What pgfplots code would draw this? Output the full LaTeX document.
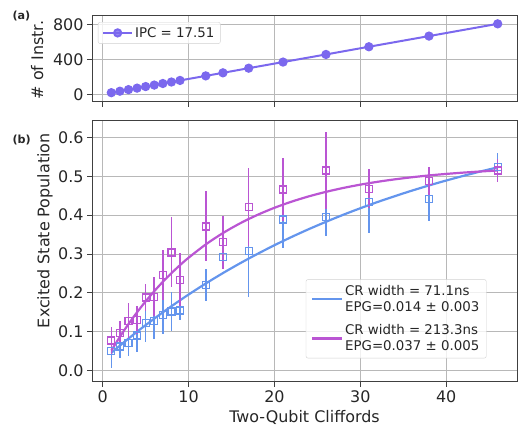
\documentclass[border=0pt]{standalone}
\usepackage{pgfplots}
\pgfplotsset{compat=1.18}
\usepackage{pgfplotstable}
\usepackage{fontspec}
\setmainfont{DejaVu Sans}
\definecolor{cblue}{RGB}{100,149,237}
\definecolor{cpurp}{RGB}{186,85,211}
\definecolor{ctop}{RGB}{123,104,238}

\pgfplotstableread{
x y
1 18
2 35
3 53
4 70
5 88
6 105
7 123
8 140
9 158
12 210
14 245
17 298
21 368
26 455
31 543
38 665
46 805
}\instr

\pgfplotstableread{
x y e
1 0.050 0.043
2 0.062 0.030
3 0.071 0.035
4 0.090 0.042
5 0.123 0.050
6 0.127 0.045
7 0.142 0.047
8 0.152 0.050
9 0.154 0.023
12 0.220 0.040
14 0.292 0.030
17 0.307 0.118
21 0.389 0.074
26 0.395 0.048
31 0.433 0.080
38 0.441 0.056
46 0.524 0.037
}\bluedata

\pgfplotstableread{
x y e
1 0.077 0.035
2 0.097 0.030
3 0.128 0.045
4 0.130 0.035
5 0.188 0.035
6 0.190 0.050
7 0.246 0.065
8 0.304 0.090
9 0.233 0.070
12 0.371 0.090
14 0.330 0.068
17 0.421 0.100
21 0.466 0.080
26 0.515 0.100
31 0.468 0.050
38 0.488 0.035
46 0.515 0.030
}\purpdata

\pgfplotstableread{
x y
1 0.0452
2 0.0639
3 0.0821
4 0.0997
5 0.1168
6 0.1334
7 0.1496
8 0.1653
9 0.1806
10 0.1955
12 0.2239
14 0.2507
16 0.2760
18 0.2999
20 0.3225
22 0.3438
24 0.3639
26 0.3828
28 0.4008
30 0.4177
32 0.4337
34 0.4487
36 0.4630
38 0.4764
40 0.4891
42 0.5011
44 0.5124
46 0.5230
}\bluefit

\pgfplotstableread{
x y
1 0.0513
2 0.0867
3 0.1195
4 0.1499
5 0.1780
6 0.2040
7 0.2282
8 0.2505
9 0.2712
10 0.2903
12 0.3245
14 0.3538
16 0.3789
18 0.4004
20 0.4189
22 0.4347
24 0.4483
26 0.4599
28 0.4699
30 0.4785
32 0.4858
34 0.4921
36 0.4975
38 0.5022
40 0.5061
42 0.5095
44 0.5124
46 0.5149
}\purpfit

\pgfplotsset{
  common/.style={
    scale only axis,
    width=425bp,
    xmin=-1.25, xmax=48.25,
    axis line style={black!75, line width=0.8bp},
    tick style={black!75, line width=0.8bp},
    tick align=outside,
    major tick length=5bp,
    xtick pos=left, ytick pos=left,
    grid=major,
    grid style={black!28, line width=0.8bp},
    tick label style={font=\fontsize{16}{19}\selectfont, text=black!85},
    /pgf/number format/assume math mode=true,
    label style={font=\fontsize{16}{19}\selectfont, text=black!85},
    xtick={0,10,20,30,40},
    legend style={font=\fontsize{13.4}{15.7}\selectfont, draw=black!18, rounded corners=2pt,
      fill=white, fill opacity=0.8, text opacity=1, text=black!85, inner xsep=4bp, inner ysep=3bp},
    legend cell align=left,
  }
}

\begin{document}
\begin{tikzpicture}
\useasboundingbox (0,0) rectangle (518bp,426bp);

\begin{axis}[common,
  at={(92bp,324.3bp)}, anchor=south west,
  height=86.7bp,
  ymin=-85, ymax=906,
  ytick={0,400,800},
  xticklabels={},
  ylabel={\# of Instr.},
  ylabel style={at={(axis description cs:-0.115,0.48)}, anchor=base},
  legend style={at={(axis description cs:0.014,0.919)}, anchor=north west},
  legend image code/.code={\draw[mark repeat=2,mark phase=2,#1] plot coordinates {(0bp,0bp) (14.5bp,0bp) (29bp,0bp)};},
]
\addplot[ctop, line width=2bp, mark=*, mark size=3.6bp, mark options={solid, fill=ctop, draw=ctop}] table[x=x,y=y] {\instr};
\addlegendentry{IPC = 17.51}
\end{axis}

\begin{axis}[common,
  at={(92bp,44.3bp)}, anchor=south west,
  height=261.7bp,
  ymin=-0.029, ymax=0.645,
  ytick={0,0.1,0.2,0.3,0.4,0.5,0.6},
  yticklabel style={/pgf/number format/.cd, fixed, fixed zerofill, precision=1},
  xlabel={Two-Qubit Cliffords},
  ylabel={Excited State Population},
  xlabel style={at={(axis description cs:0.5,0)}, anchor=base, yshift=-40.3bp},
  ylabel style={at={(axis description cs:-0.1005,0.577)}, anchor=base},
  legend style={at={(axis description cs:0.503,0.391)}, anchor=north west, cells={align=left}, row sep=8bp, inner xsep=5bp, inner ysep=4bp},
  legend image code/.code={\draw[#1] (0bp,0bp) -- (30bp,0bp);},
]
\addplot[cblue, only marks, forget plot, mark=square, mark size=3.5bp, mark options={solid, line width=1.3bp, fill=none},
  error bars/.cd, y dir=both, y explicit, error mark=none,
  error bar style={line width=1.5bp, cblue}] table[x=x,y=y,y error=e] {\bluedata};
\addplot[cblue, line width=2.2bp, smooth, no marks] table[x=x,y=y] {\bluefit};
\addlegendentry{CR width = 71.1ns\\EPG=0.014 ± 0.003}
\addplot[cpurp, only marks, forget plot, mark=square, mark size=3.5bp, mark options={solid, line width=1.3bp, fill=none},
  error bars/.cd, y dir=both, y explicit, error mark=none,
  error bar style={line width=1.5bp, cpurp}] table[x=x,y=y,y error=e] {\purpdata};
\addplot[cpurp, line width=2.2bp, smooth, no marks] table[x=x,y=y] {\purpfit};
\addlegendentry{CR width = 213.3ns\\EPG=0.037 ± 0.005}
\end{axis}

\node[font=\bfseries\fontsize{11.2}{13}\selectfont, anchor=west, text=black!85] at (9bp,410bp) {(a)};
\node[font=\bfseries\fontsize{11.2}{13}\selectfont, anchor=west, text=black!85] at (9bp,286bp) {(b)};
\end{tikzpicture}
\end{document}
